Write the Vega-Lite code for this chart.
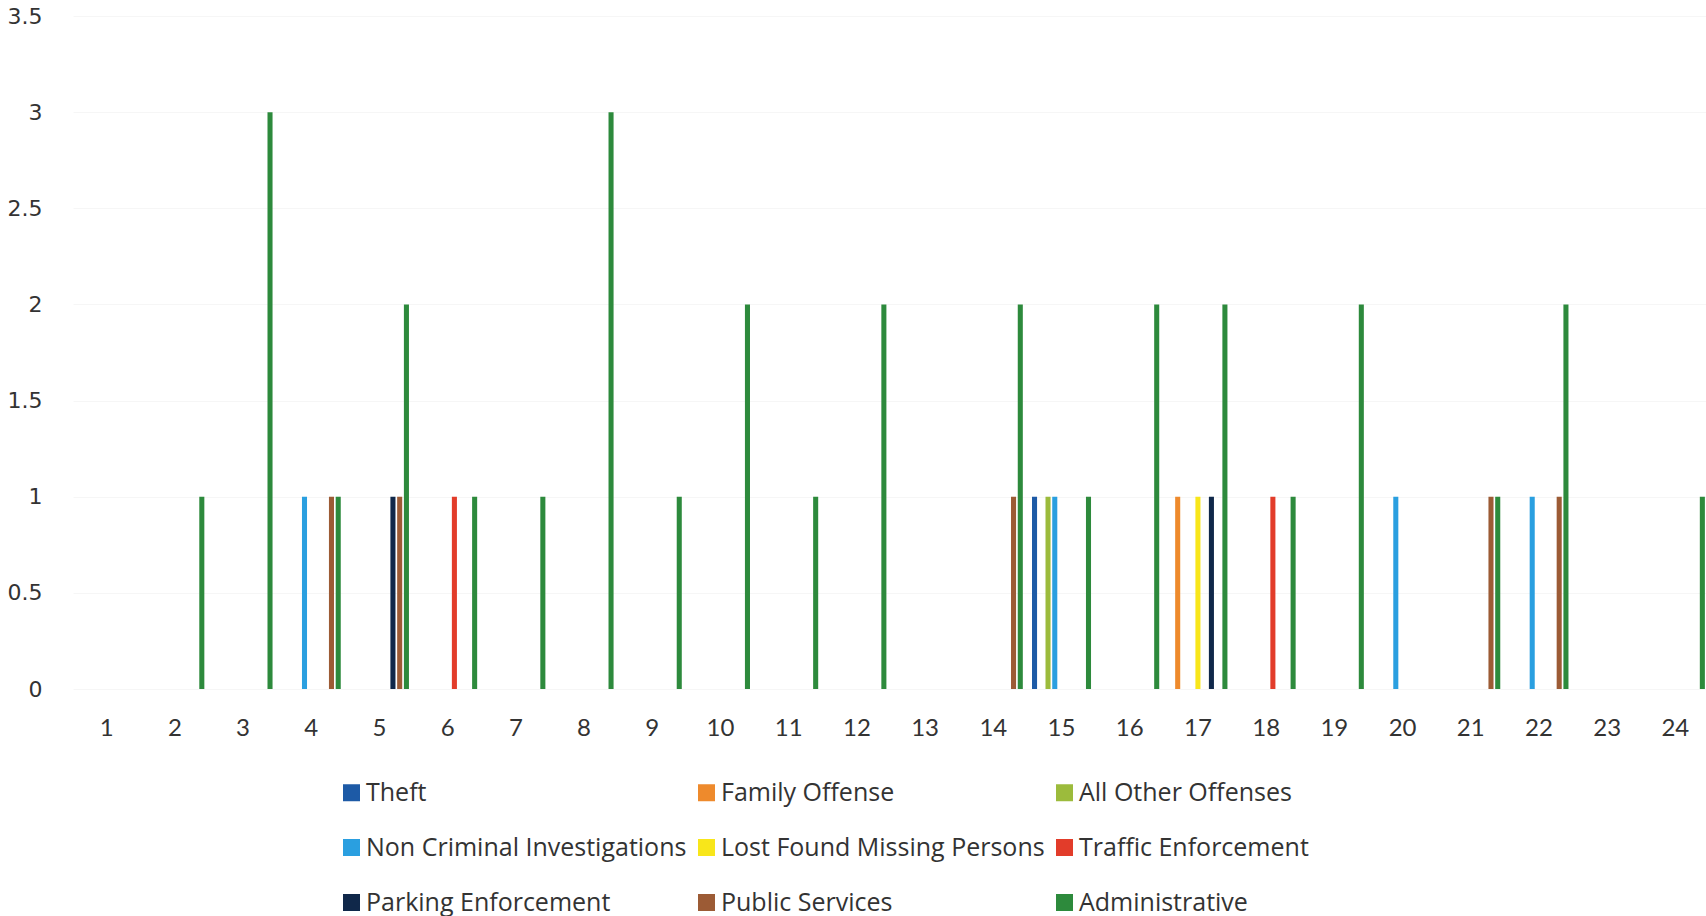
{
  "$schema": "https://vega.github.io/schema/vega-lite/v6.json",
  "autosize": "none",
  "width": 1632,
  "height": 673,
  "padding": {"left": 73, "top": 16, "right": 1, "bottom": 227},
  "background": "white",
  "data": {
    "values": [
      {"hour": 2, "category": "Administrative", "count": 1},
      {"hour": 3, "category": "Administrative", "count": 3},
      {"hour": 4, "category": "Non Criminal Investigations", "count": 1},
      {"hour": 4, "category": "Public Services", "count": 1},
      {"hour": 4, "category": "Administrative", "count": 1},
      {"hour": 5, "category": "Parking Enforcement", "count": 1},
      {"hour": 5, "category": "Public Services", "count": 1},
      {"hour": 5, "category": "Administrative", "count": 2},
      {"hour": 6, "category": "Traffic Enforcement", "count": 1},
      {"hour": 6, "category": "Administrative", "count": 1},
      {"hour": 7, "category": "Administrative", "count": 1},
      {"hour": 8, "category": "Administrative", "count": 3},
      {"hour": 9, "category": "Administrative", "count": 1},
      {"hour": 10, "category": "Administrative", "count": 2},
      {"hour": 11, "category": "Administrative", "count": 1},
      {"hour": 12, "category": "Administrative", "count": 2},
      {"hour": 14, "category": "Public Services", "count": 1},
      {"hour": 14, "category": "Administrative", "count": 2},
      {"hour": 15, "category": "Theft", "count": 1},
      {"hour": 15, "category": "All Other Offenses", "count": 1},
      {"hour": 15, "category": "Non Criminal Investigations", "count": 1},
      {"hour": 15, "category": "Administrative", "count": 1},
      {"hour": 16, "category": "Administrative", "count": 2},
      {"hour": 17, "category": "Family Offense", "count": 1},
      {"hour": 17, "category": "Lost Found Missing Persons", "count": 1},
      {"hour": 17, "category": "Parking Enforcement", "count": 1},
      {"hour": 17, "category": "Administrative", "count": 2},
      {"hour": 18, "category": "Traffic Enforcement", "count": 1},
      {"hour": 18, "category": "Administrative", "count": 1},
      {"hour": 19, "category": "Administrative", "count": 2},
      {"hour": 20, "category": "Non Criminal Investigations", "count": 1},
      {"hour": 21, "category": "Public Services", "count": 1},
      {"hour": 21, "category": "Administrative", "count": 1},
      {"hour": 22, "category": "Non Criminal Investigations", "count": 1},
      {"hour": 22, "category": "Public Services", "count": 1},
      {"hour": 22, "category": "Administrative", "count": 2},
      {"hour": 24, "category": "Administrative", "count": 1}
    ]
  },
  "mark": {"type": "bar"},
  "encoding": {
    "x": {
      "field": "hour",
      "type": "ordinal",
      "scale": {
        "domain": [1, 2, 3, 4, 5, 6, 7, 8, 9, 10, 11, 12, 13, 14, 15, 16, 17, 18, 19, 20, 21, 22, 23, 24],
        "range": [0, 1636],
        "paddingInner": 0.11,
        "paddingOuter": 0.048
      },
      "axis": {
        "title": null,
        "labelAngle": 0,
        "domain": false,
        "ticks": false,
        "grid": false,
        "labelFont": "Lato",
        "labelFontSize": 24,
        "labelColor": "#333333",
        "labelPadding": 27
      }
    },
    "xOffset": {
      "field": "category",
      "type": "nominal",
      "scale": {
        "domain": ["Theft", "Family Offense", "All Other Offenses", "Non Criminal Investigations", "Lost Found Missing Persons", "Traffic Enforcement", "Parking Enforcement", "Public Services", "Administrative"],
        "paddingInner": 0.25,
        "paddingOuter": 0.125
      }
    },
    "y": {
      "field": "count",
      "type": "quantitative",
      "scale": {"domain": [0, 3.5], "nice": false},
      "axis": {
        "title": null,
        "values": [0, 0.5, 1, 1.5, 2, 2.5, 3, 3.5],
        "format": "~g",
        "domain": false,
        "ticks": false,
        "grid": true,
        "gridColor": "#f6f6f6",
        "gridWidth": 1,
        "labelFont": "DejaVu Sans",
        "labelFontSize": 22,
        "labelColor": "#333333",
        "labelPadding": 31
      }
    },
    "color": {
      "field": "category",
      "type": "nominal",
      "scale": {
        "domain": ["Theft", "Family Offense", "All Other Offenses", "Non Criminal Investigations", "Lost Found Missing Persons", "Traffic Enforcement", "Parking Enforcement", "Public Services", "Administrative"],
        "range": ["#1d5aa6", "#ee8a2c", "#9cbb3c", "#2a9fe0", "#f8e61a", "#e23c2a", "#10284a", "#9c5b35", "#2d8a3c"]
      },
      "legend": {
        "title": null,
        "orient": "none",
        "legendX": 266,
        "legendY": 764,
        "direction": "horizontal",
        "columns": 3,
        "columnPadding": 7,
        "rowPadding": 29,
        "gridAlign": "each",
        "padding": 0,
        "symbolType": "square",
        "symbolSize": 289,
        "symbolStrokeWidth": 0,
        "symbolOffset": 0,
        "labelOffset": 2,
        "labelFont": "Open Sans",
        "labelFontSize": 25,
        "labelColor": "#333333",
        "labelLimit": 500
      }
    }
  },
  "config": {
    "view": {"stroke": null}
  }
}
